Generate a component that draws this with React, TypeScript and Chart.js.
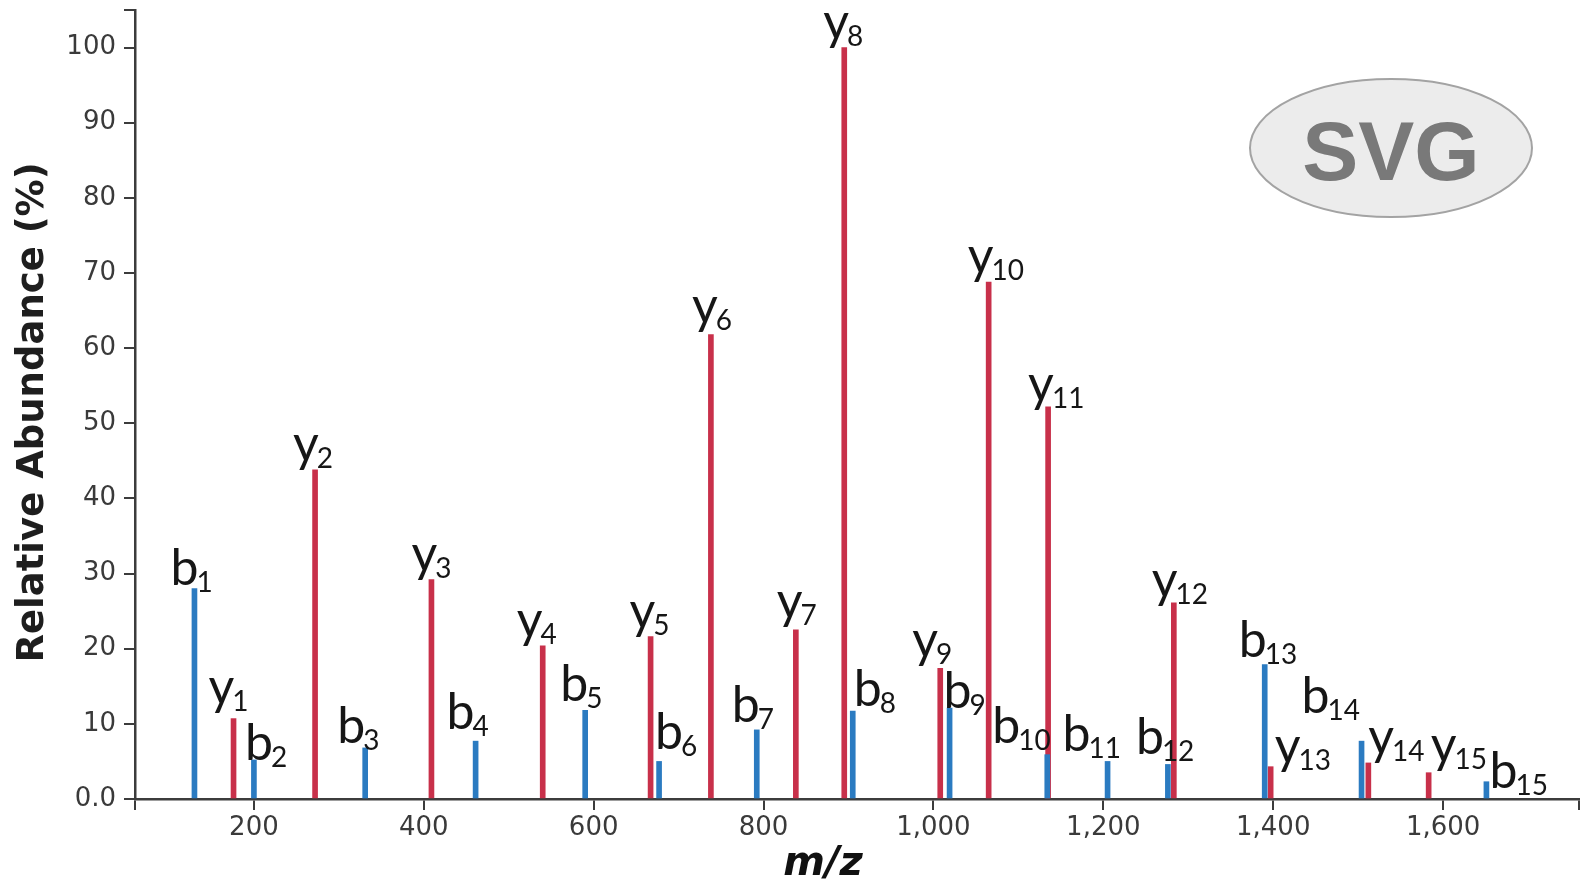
import React, { useEffect, useRef } from 'react';
import { Chart, registerables } from 'chart.js';

Chart.register(...registerables);

// ---- data (m/z, relative abundance %) ----
const bIonMz = [130, 200, 331, 461, 590, 677, 792, 905, 1019, 1134, 1205, 1276, 1390, 1504, 1651];
const bIonAbundance = [28, 5.2, 6.8, 7.7, 11.8, 5.0, 9.2, 11.7, 12.1, 5.9, 5.0, 4.6, 17.9, 7.7, 2.3];
const yIonMz = [176, 272, 409, 540, 667, 738, 838, 895, 1008, 1065, 1135, 1283, 1397, 1512, 1583];
const yIonAbundance = [10.7, 43.8, 29.2, 20.4, 21.6, 61.8, 22.5, 100, 17.4, 68.8, 52.2, 26.1, 4.3, 4.8, 3.5];

const xTickValues = [200, 400, 600, 800, 1000, 1200, 1400, 1600];
const yTickValues = [0, 10, 20, 30, 40, 50, 60, 70, 80, 90, 100];
const X_MIN = 60;
const X_MAX = 1760;
const Y_MAX = 105;

// ---- label layout (pixel nudges of the ion labels relative to the peak top) ----
const bLabelNudge: [number, number][] = [
  [-21, -4], [-6, 0], [-25, -5], [-26, -12], [-22, -9], [-1, -12], [-22, -8], [4, -5],
  [-3, 0], [-52, -12], [-42, -10], [-29, -10], [-23, -7], [-57, -28], [6, 6],
];
const yLabelNudge: [number, number][] = [
  [-25, -6], [-22, 0], [-20, 0], [-26, 0], [-21, 0], [-19, -3], [-19, -3], [-21, 0],
  [-28, -2], [-21, 0], [-20, 3], [-22, 3], [4, 5], [0, 0], [2, -2],
];

const RED = '#C8304A';
const BLUE = '#2B7BC1';
const AXIS = '#3c3c3c';

const ionLabelPlugin = {
  id: 'ionLabels',
  afterDatasetsDraw(chart: any) {
    const ctx = chart.ctx;
    ctx.save();
    ctx.fillStyle = '#161616';
    ctx.textAlign = 'left';
    ctx.textBaseline = 'alphabetic';
    chart.data.datasets.forEach((ds: any, di: number) => {
      const meta = chart.getDatasetMeta(di);
      meta.data.forEach((bar: any, i: number) => {
        const { x, y } = bar.getProps(['x', 'y'], true);
        const [dx, dy] = ds.labelNudge[i];
        ctx.font = '50px Lato';
        const m = ctx.measureText(ds.ionLetter);
        const left = x + dx + m.actualBoundingBoxLeft;
        const base = y + dy - m.actualBoundingBoxDescent;
        ctx.fillText(ds.ionLetter, left, base);
        ctx.font = '28px Lato';
        ctx.fillText(String(i + 1), left + m.width - 2, base + 7);
      });
    });
    ctx.restore();
  },
};

const decorPlugin = {
  id: 'decor',
  beforeDatasetsDraw(chart: any) {
    const ctx = chart.ctx;
    ctx.save();
    // watermark badge
    ctx.beginPath();
    ctx.ellipse(1391, 148, 141, 69, 0, 0, Math.PI * 2);
    ctx.fillStyle = '#ececec';
    ctx.fill();
    ctx.lineWidth = 2;
    ctx.strokeStyle = '#a3a3a3';
    ctx.stroke();
    ctx.fillStyle = '#797979';
    ctx.font = 'bold 84px "Liberation Sans"';
    ctx.textAlign = 'center';
    ctx.textBaseline = 'alphabetic';
    ctx.fillText('SVG', 1391, 180);
    ctx.restore();
  },
  afterDraw(chart: any) {
    const ctx = chart.ctx;
    const a = chart.chartArea;
    ctx.save();
    ctx.fillStyle = '#111';
    ctx.font = 'italic bold 40px "DejaVu Sans"';
    ctx.textAlign = 'center';
    ctx.textBaseline = 'alphabetic';
    ctx.fillText('m/z', (a.left + a.right) / 2 - 34, 875);
    // y-axis title
    ctx.translate(33, (a.top + a.bottom) / 2 + 8);
    ctx.rotate(-Math.PI / 2);
    ctx.fillStyle = '#1e1e1e';
    ctx.font = 'bold 37px "DejaVu Sans"';
    ctx.textBaseline = 'middle';
    ctx.fillText('Relative Abundance (%)', 0, 0);
    ctx.restore();
  },
};

export default function App() {
  const canvasRef = useRef<HTMLCanvasElement | null>(null);

  useEffect(() => {
    if (!canvasRef.current) return;
    const chart = new Chart(canvasRef.current, {
      type: 'bar',
      data: {
        datasets: [
          {
            label: 'b ions',
            data: bIonMz.map((mz, i) => ({ x: mz, y: bIonAbundance[i] })),
            backgroundColor: BLUE,
            barThickness: 5,
            grouped: false,
            ionLetter: 'b',
            labelNudge: bLabelNudge,
          } as any,
          {
            label: 'y ions',
            data: yIonMz.map((mz, i) => ({ x: mz, y: yIonAbundance[i] })),
            backgroundColor: RED,
            barThickness: 5,
            grouped: false,
            ionLetter: 'y',
            labelNudge: yLabelNudge,
          } as any,
        ],
      },
      options: {
        animation: false,
        responsive: false,
        layout: { padding: { left: 0, top: 10, right: 2, bottom: 0 } },
        plugins: { legend: { display: false }, tooltip: { enabled: false } },
        scales: {
          x: {
            type: 'linear',
            offset: false,
            min: X_MIN,
            max: X_MAX,
            afterBuildTicks: (s: any) => {
              s.ticks = [X_MIN, ...xTickValues, X_MAX].map((v) => ({ value: v }));
            },
            afterFit: (s: any) => {
              s.height = 85;
              s.paddingLeft = 0;
              s.paddingRight = 0;
            },
            ticks: {
              autoSkip: false,
              maxRotation: 0,
              padding: 3,
              color: '#3a3a3a',
              font: { family: 'DejaVu Sans', size: 26 },
              callback: (v: any) => (xTickValues.includes(v) ? Number(v).toLocaleString('en-US') : ''),
            },
            grid: { display: true, offset: false, drawOnChartArea: false, drawTicks: true, tickLength: 11, color: AXIS, lineWidth: 2 },
            border: { display: true, color: AXIS, width: 2.5 },
          },
          y: {
            type: 'linear',
            min: 0,
            max: Y_MAX,
            afterBuildTicks: (s: any) => {
              s.ticks = [...yTickValues, Y_MAX].map((v) => ({ value: v }));
            },
            afterFit: (s: any) => {
              s.width = 135;
              s.paddingTop = 0;
              s.paddingBottom = 0;
            },
            ticks: {
              autoSkip: false,
              padding: 8,
              color: '#3a3a3a',
              font: { family: 'DejaVu Sans', size: 26 },
              callback: (v: any) => (v === 0 ? '0.0' : yTickValues.includes(v) ? String(v) : ''),
            },
            grid: { display: true, drawOnChartArea: false, drawTicks: true, tickLength: 11, color: AXIS, lineWidth: 2 },
            border: { display: true, color: AXIS, width: 2.5 },
          },
        },
      } as any,
      plugins: [decorPlugin, ionLabelPlugin],
    });
    return () => chart.destroy();
  }, []);

  return (
    <div style={{ position: 'absolute', left: 0, top: 0, width: 1581, height: 884, background: '#fff' }}>
      <canvas ref={canvasRef} width={1581} height={884} style={{ display: 'block' }} />
    </div>
  );
}
